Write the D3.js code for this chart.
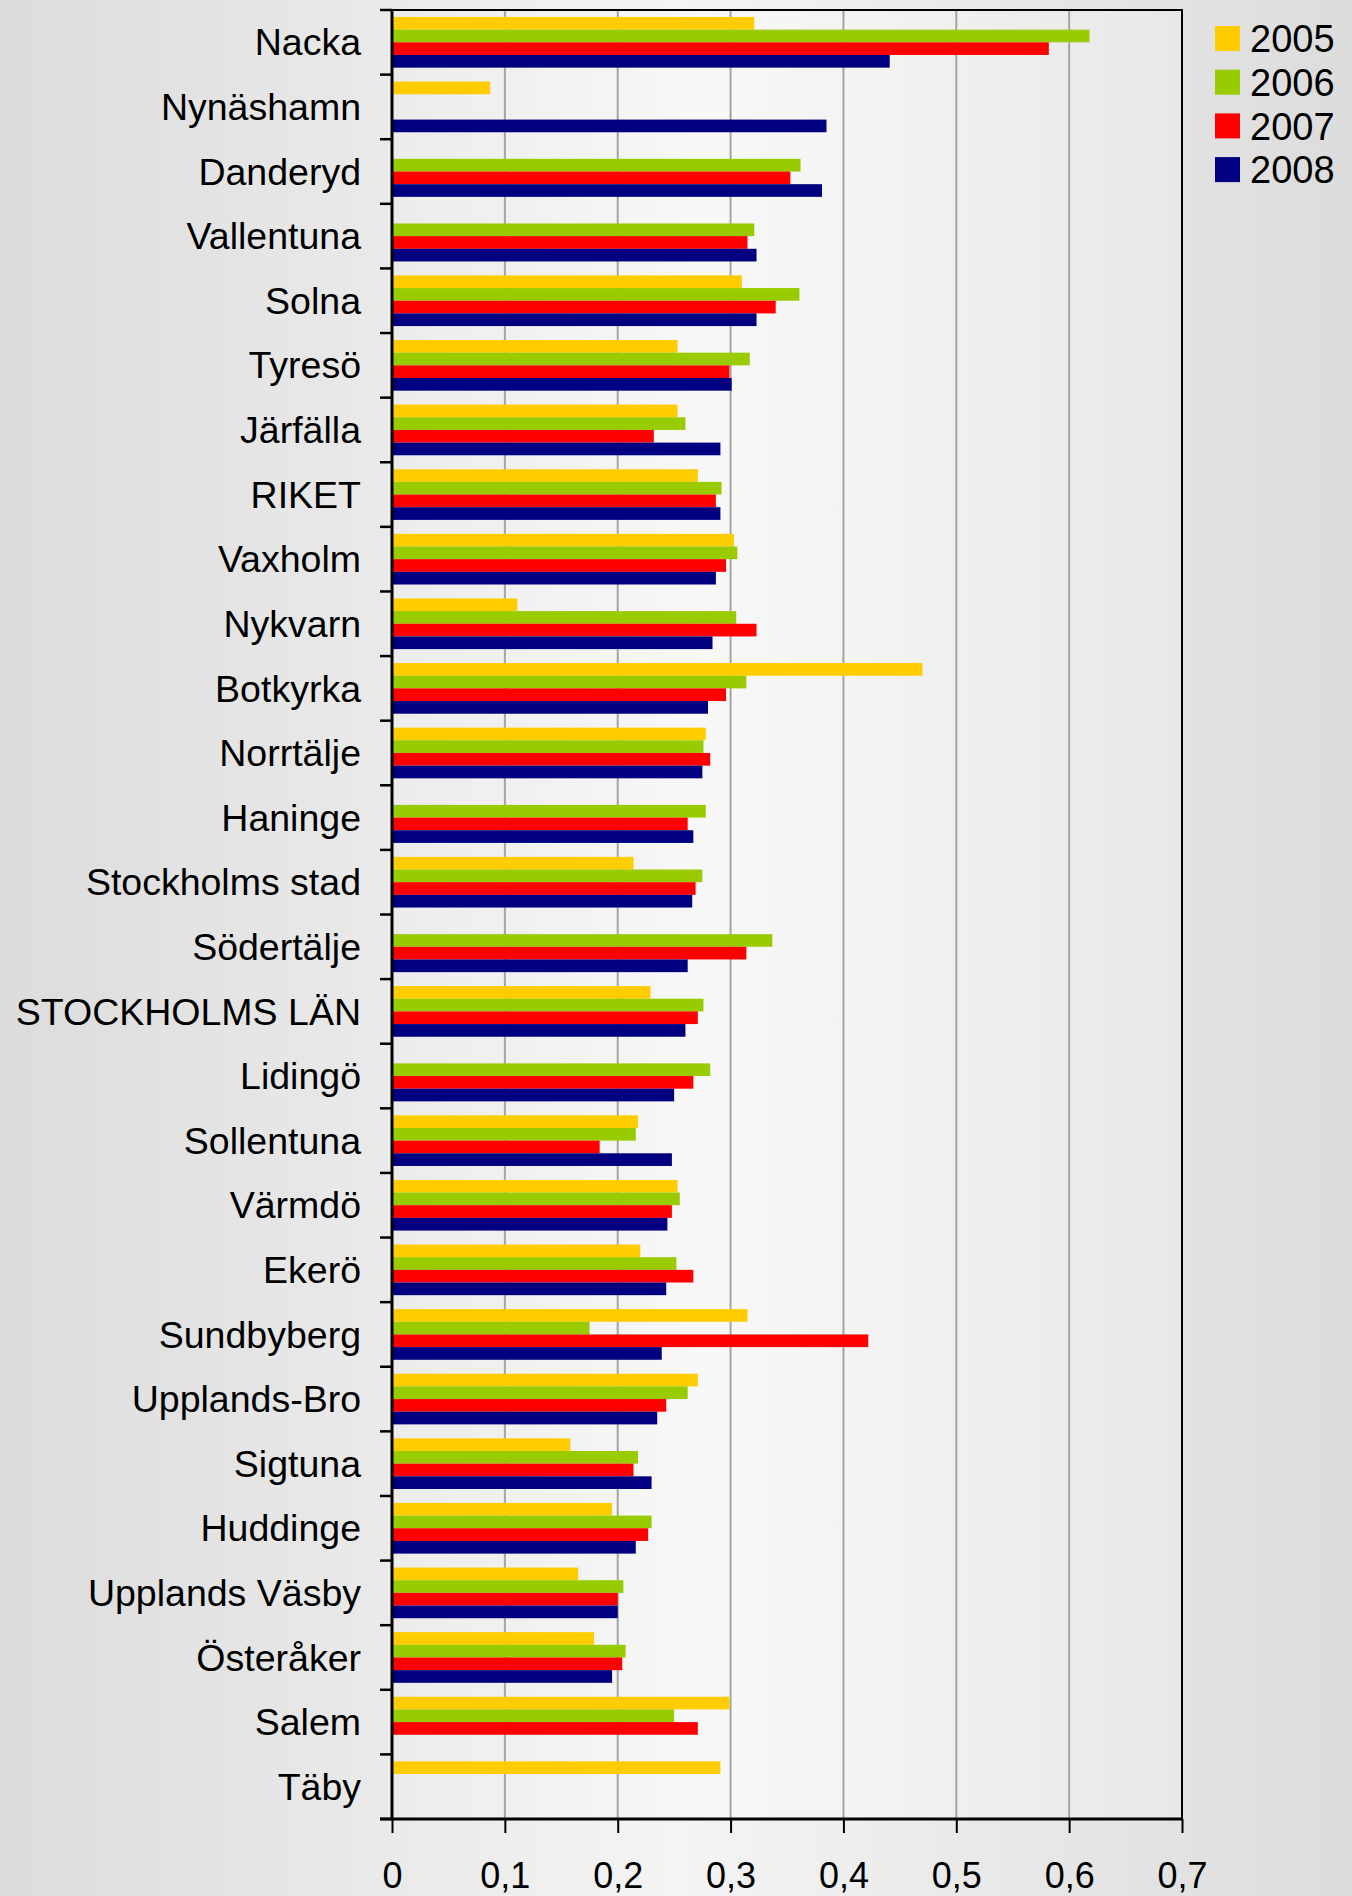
<!DOCTYPE html>
<html>
<head>
<meta charset="utf-8">
<script src="https://cdn.jsdelivr.net/npm/d3@7"></script>
<style>
  body { margin: 0; }
  #visualization { width: 1352px; height: 1896px; }
</style>
</head>
<body>
<div id="visualization"></div>
<script>
// Category names, top to bottom.
const categories = ["Nacka", "Nynäshamn", "Danderyd", "Vallentuna", "Solna", "Tyresö", "Järfälla",
  "RIKET", "Vaxholm", "Nykvarn", "Botkyrka", "Norrtälje", "Haninge", "Stockholms stad", "Södertälje",
  "STOCKHOLMS LÄN", "Lidingö", "Sollentuna", "Värmdö", "Ekerö", "Sundbyberg", "Upplands-Bro",
  "Sigtuna", "Huddinge", "Upplands Väsby", "Österåker", "Salem", "Täby"];

const years = ["2005", "2006", "2007", "2008"];

// One value per category, null where there is no bar.
const values2005 = [0.321, 0.087, null, null, 0.310, 0.253, 0.253, 0.271, 0.303, 0.111, 0.470, 0.278, null, 0.214,
  null, 0.229, null, 0.218, 0.253, 0.220, 0.315, 0.271, 0.158, 0.195, 0.165, 0.179, 0.299, 0.291];
const values2006 = [0.618, null, 0.362, 0.321, 0.361, 0.317, 0.260, 0.292, 0.306, 0.305, 0.314, 0.276, 0.278, 0.275,
  0.337, 0.276, 0.282, 0.216, 0.255, 0.252, 0.175, 0.262, 0.218, 0.230, 0.205, 0.207, 0.250, null];
const values2007 = [0.582, null, 0.353, 0.315, 0.340, 0.299, 0.232, 0.287, 0.296, 0.323, 0.296, 0.282, 0.262, 0.269,
  0.314, 0.271, 0.267, 0.184, 0.248, 0.267, 0.422, 0.243, 0.214, 0.227, 0.200, 0.204, 0.271, null];
const values2008 = [0.441, 0.385, 0.381, 0.323, 0.323, 0.301, 0.291, 0.291, 0.287, 0.284, 0.280, 0.275, 0.267, 0.266,
  0.262, 0.260, 0.250, 0.248, 0.244, 0.243, 0.239, 0.235, 0.230, 0.216, 0.200, 0.195, null, null];

const xTicks = [0, 0.1, 0.2, 0.3, 0.4, 0.5, 0.6, 0.7];
const colors = ["#FFCC00", "#99CC00", "#FF0000", "#000080"];

// Build flat rows for the bars.
const series = [values2005, values2006, values2007, values2008];
const data = [];
categories.forEach((c, i) => {
  years.forEach((yr, j) => {
    if (series[j][i] !== null) data.push({group: c, year: yr, value: series[j][i]});
  });
});

const totalWidth = 1352;
const totalHeight = 1896;
const margin = {top: 10, right: 170, bottom: 77, left: 392};
const width = totalWidth - margin.left - margin.right;
const height = totalHeight - margin.top - margin.bottom;
const font = "'Liberation Sans', Arial, sans-serif";

const root = d3.select("#visualization")
  .append("svg")
  .attr("width", totalWidth)
  .attr("height", totalHeight);

// Background gradients.
const defs = root.append("defs");
const bg = defs.append("linearGradient").attr("id", "bg").attr("x1", "0%").attr("x2", "100%");
bg.append("stop").attr("offset", "0%").attr("stop-color", "#dcdcdc");
bg.append("stop").attr("offset", "50%").attr("stop-color", "#f4f4f4");
bg.append("stop").attr("offset", "100%").attr("stop-color", "#dcdcdc");
const pg = defs.append("linearGradient").attr("id", "pg").attr("x1", "0%").attr("x2", "100%");
pg.append("stop").attr("offset", "0%").attr("stop-color", "#ececec");
pg.append("stop").attr("offset", "40%").attr("stop-color", "#f8f8f8");
pg.append("stop").attr("offset", "100%").attr("stop-color", "#e8e8e8");

root.append("rect").attr("width", totalWidth).attr("height", totalHeight).attr("fill", "url(#bg)");

const svg = root.append("g").attr("transform", `translate(${margin.left}, ${margin.top})`);

svg.append("rect").attr("width", width).attr("height", height).attr("fill", "url(#pg)");

// Scales.
const x = d3.scaleLinear().domain([0, 0.7]).range([0, width]);
const y = d3.scaleBand().domain(categories).range([0, height]).padding(0);
const y1 = d3.scaleBand().domain(years).range([0, y.bandwidth()]).paddingOuter(0.55).paddingInner(0);
const color = d3.scaleOrdinal().domain(years).range(colors);

// Vertical gridlines.
svg.selectAll(".grid")
  .data(xTicks.slice(1, -1))
  .join("line")
    .attr("x1", d => x(d)).attr("x2", d => x(d))
    .attr("y1", 0).attr("y2", height)
    .attr("stroke", "#a4a4a4")
    .attr("stroke-width", 2);

// Bars.
svg.selectAll(".bar")
  .data(data)
  .join("rect")
    .attr("x", 0)
    .attr("y", d => y(d.group) + y1(d.year))
    .attr("width", d => x(d.value))
    .attr("height", y1.bandwidth())
    .attr("fill", d => color(d.year));

// Plot frame (top and right).
svg.append("path")
  .attr("d", `M0,0H${width}V${height}`)
  .attr("fill", "none")
  .attr("stroke", "#000")
  .attr("stroke-width", 2);

// Left axis: ticks between categories and labels.
const edges = categories.map(c => y(c)).concat([height]);
svg.selectAll(".ytick")
  .data(edges)
  .join("line")
    .attr("x1", -12).attr("x2", 0)
    .attr("y1", d => d).attr("y2", d => d)
    .attr("stroke", "#000")
    .attr("stroke-width", 2.5);

svg.append("line")
  .attr("x1", 0).attr("x2", 0).attr("y1", 0).attr("y2", height)
  .attr("stroke", "#000").attr("stroke-width", 3);

svg.selectAll(".ylabel")
  .data(categories)
  .join("text")
    .attr("x", -31)
    .attr("y", d => y(d) + y.bandwidth() / 2)
    .attr("dy", "0.35em")
    .attr("text-anchor", "end")
    .style("font-family", font)
    .style("font-size", "37.5px")
    .text(d => d);

// Bottom axis.
const xAxis = svg.append("g")
  .attr("transform", `translate(0, ${height})`)
  .call(d3.axisBottom(x).tickValues(xTicks).tickSize(14).tickPadding(29)
    .tickFormat(d => d3.format("")(d).replace(".", ",")));
xAxis.select(".domain").attr("stroke-width", 3).attr("d", `M-12,0H${width}`);
xAxis.selectAll(".tick line").attr("stroke-width", 2);
xAxis.selectAll("text")
  .style("font-family", font)
  .style("font-size", "36px")
  .attr("fill", "#000");

// Legend.
const legend = root.append("g").attr("transform", "translate(1215, 26)");
const item = legend.selectAll(".item")
  .data(years)
  .join("g")
    .attr("transform", (d, i) => `translate(0, ${i * 43.7})`);
item.append("rect")
  .attr("width", 25).attr("height", 25)
  .attr("fill", d => color(d));
item.append("text")
  .attr("x", 35).attr("y", 12.5).attr("dy", "0.36em")
  .style("font-family", font)
  .style("font-size", "38px")
  .text(d => d);
</script>
</body>
</html>
